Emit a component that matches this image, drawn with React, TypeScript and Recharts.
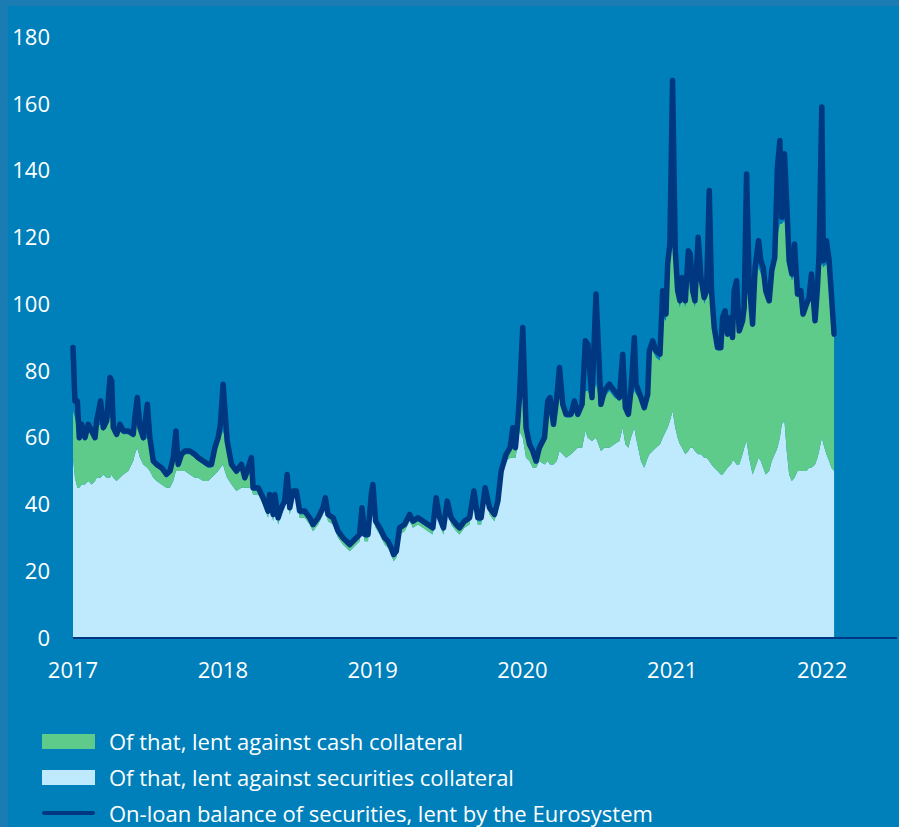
import { ComposedChart, Area, Line, XAxis, YAxis, Legend } from "recharts";

const NAVY = "#003781";
const GREEN = "#5ecb8b";
const LIGHT_BLUE = "#bfe9fc";
const BG = "#0080ba";
const EDGE = "#1a7cb3";
const FONT = "'Open Sans', 'DejaVu Sans', sans-serif";

const yearTicks = [2017, 2018, 2019, 2020, 2021, 2022];
const valueTicks = [0, 20, 40, 60, 80, 100, 120, 140, 160, 180];

// EUR bn, dates as decimal years
const dates = [
  2017.0, 2017.013, 2017.029, 2017.042, 2017.058, 2017.08, 2017.102, 2017.124, 2017.147, 2017.158,
  2017.184, 2017.202, 2017.224, 2017.247, 2017.258, 2017.269, 2017.291, 2017.313, 2017.336, 2017.369,
  2017.402, 2017.413, 2017.429, 2017.447, 2017.469, 2017.496, 2017.513, 2017.536, 2017.558, 2017.591,
  2017.624, 2017.647, 2017.669, 2017.687, 2017.702, 2017.724, 2017.747, 2017.78, 2017.813, 2017.836,
  2017.869, 2017.902, 2017.924, 2017.947, 2017.969, 2017.984, 2018.002, 2018.013, 2018.029, 2018.058,
  2018.091, 2018.124, 2018.147, 2018.191, 2018.202, 2018.236, 2018.269, 2018.302, 2018.313, 2018.336,
  2018.347, 2018.369, 2018.391, 2018.413, 2018.429, 2018.447, 2018.469, 2018.491, 2018.513, 2018.547,
  2018.58, 2018.602, 2018.636, 2018.669, 2018.684, 2018.702, 2018.736, 2018.769, 2018.802, 2018.847,
  2018.891, 2018.913, 2018.929, 2018.947, 2018.969, 2018.991, 2019.002, 2019.02, 2019.047, 2019.08,
  2019.102, 2019.124, 2019.14, 2019.158, 2019.18, 2019.213, 2019.247, 2019.269, 2019.302, 2019.336,
  2019.369, 2019.402, 2019.424, 2019.447, 2019.473, 2019.498, 2019.524, 2019.558, 2019.58, 2019.613,
  2019.647, 2019.676, 2019.702, 2019.724, 2019.751, 2019.78, 2019.813, 2019.836, 2019.858, 2019.891,
  2019.918, 2019.936, 2019.953, 2019.969, 2019.98, 2020.002, 2020.024, 2020.047, 2020.069, 2020.091,
  2020.113, 2020.147, 2020.169, 2020.184, 2020.207, 2020.229, 2020.247, 2020.269, 2020.291, 2020.324,
  2020.347, 2020.369, 2020.398, 2020.42, 2020.436, 2020.464, 2020.491, 2020.524, 2020.547, 2020.58,
  2020.613, 2020.647, 2020.669, 2020.687, 2020.707, 2020.724, 2020.747, 2020.758, 2020.791, 2020.813,
  2020.836, 2020.847, 2020.869, 2020.891, 2020.918, 2020.936, 2020.958, 2020.969, 2020.984, 2021.002,
  2021.02, 2021.036, 2021.051, 2021.065, 2021.087, 2021.107, 2021.12, 2021.136, 2021.151, 2021.173,
  2021.191, 2021.213, 2021.229, 2021.247, 2021.262, 2021.28, 2021.302, 2021.324, 2021.336, 2021.353,
  2021.369, 2021.391, 2021.402, 2021.413, 2021.429, 2021.447, 2021.469, 2021.48, 2021.496, 2021.513,
  2021.536, 2021.553, 2021.576, 2021.591, 2021.607, 2021.624, 2021.647, 2021.664, 2021.684, 2021.702,
  2021.718, 2021.731, 2021.749, 2021.764, 2021.78, 2021.798, 2021.816, 2021.836, 2021.858, 2021.873,
  2021.896, 2021.913, 2021.929, 2021.953, 2021.969, 2021.98, 2021.998, 2022.009, 2022.029, 2022.047,
  2022.062, 2022.08,
];

const onLoanBalance = [
  87, 71, 71, 60, 64, 60, 64, 62, 60, 65,
  71, 63, 65, 78, 77, 63, 61, 64, 62, 62,
  61, 66, 72, 63, 60, 70, 60, 53, 52, 51,
  49, 50, 54, 62, 52, 55, 56, 56, 55, 54,
  53, 52, 52, 57, 60, 64, 76, 69, 59, 52,
  50, 52, 48, 54, 45, 45, 42, 38, 43, 37,
  43, 36, 39, 41, 49, 39, 44, 44, 38, 38,
  36, 34, 36, 39, 42, 37, 36, 32, 30, 28,
  30, 31, 39, 31, 31, 43, 46, 35, 33, 30,
  29, 27, 25, 26, 33, 34, 37, 35, 36, 35,
  34, 33, 42, 36, 33, 41, 36, 34, 33, 35,
  36, 44, 36, 36, 45, 39, 37, 41, 50, 55,
  57, 63, 57, 65, 72, 93, 63, 58, 56, 53,
  57, 60, 71, 72, 64, 72, 81, 70, 67, 67,
  71, 67, 70, 89, 88, 72, 103, 70, 74, 76,
  74, 72, 85, 69, 67, 74, 90, 76, 72, 69,
  73, 86, 89, 86, 85, 104, 97, 112, 118, 167,
  116, 104, 101, 108, 101, 116, 115, 104, 101, 120,
  108, 102, 104, 134, 104, 93, 87, 87, 96, 98,
  91, 96, 90, 104, 107, 92, 95, 99, 139, 107,
  94, 111, 119, 113, 111, 104, 101, 110, 114, 141,
  149, 126, 145, 130, 113, 109, 118, 103, 104, 97,
  100, 102, 109, 95, 105, 115, 159, 113, 119, 113,
  103, 91,
];

const securitiesCollateral = [
  54, 48, 45, 45, 46, 46, 47, 46, 47, 48,
  48, 49, 48, 48, 49, 48, 47, 48, 49, 50,
  53, 55, 57, 54, 52, 51, 50, 48, 47, 46,
  45, 45, 47, 50, 50, 50, 50, 49, 48, 48,
  47, 47, 48, 49, 50, 51, 52, 50, 48, 46,
  44, 45, 45, 45, 43, 43, 40, 36, 41, 35,
  41, 34, 37, 39, 47, 37, 42, 42, 36, 36,
  34, 32, 34, 37, 40, 35, 34, 30, 28, 26,
  28, 29, 37, 29, 29, 41, 44, 33, 31, 28,
  27, 25, 23, 24, 31, 32, 35, 33, 34, 33,
  32, 31, 40, 34, 31, 39, 34, 32, 31, 33,
  34, 42, 34, 34, 43, 37, 35, 39, 48, 53,
  54, 54, 54, 58, 62, 60, 54, 53, 51, 51,
  53, 52, 53, 52, 52, 53, 56, 55, 54, 55,
  56, 57, 57, 62, 60, 59, 60, 56, 57, 57,
  58, 59, 63, 58, 57, 60, 63, 60, 53, 51,
  54, 55, 56, 57, 58, 60, 62, 63, 65, 68,
  63, 60, 58, 57, 55, 56, 57, 57, 56, 55,
  55, 54, 54, 53, 52, 51, 50, 49, 49, 50,
  51, 52, 53, 53, 52, 52, 55, 57, 59, 54,
  49, 51, 54, 53, 51, 49, 50, 53, 55, 57,
  60, 64, 65, 56, 49, 47, 48, 50, 50, 50,
  50, 51, 51, 52, 54, 56, 60, 58, 55, 53,
  51, 50,
];

const cashCollateral = [
  14, 18, 17, 14, 15, 13, 15, 15, 12, 15,
  16, 13, 15, 18, 17, 14, 13, 14, 12, 11,
  7, 8, 9, 7, 7, 9, 8, 4, 4, 4,
  3, 4, 5, 5, 1, 4, 5, 6, 6, 5,
  5, 4, 3, 6, 8, 9, 10, 10, 8, 5,
  5, 6, 2, 5, 1, 1, 1, 1, 1, 1,
  1, 1, 1, 1, 1, 1, 1, 1, 1, 1,
  1, 1, 1, 1, 1, 1, 1, 1, 1, 1,
  1, 1, 1, 1, 1, 1, 1, 1, 1, 1,
  1, 1, 1, 1, 1, 1, 1, 1, 1, 1,
  1, 1, 1, 1, 1, 1, 1, 1, 1, 1,
  1, 1, 1, 1, 1, 1, 1, 1, 1, 1,
  2, 7, 2, 5, 8, 14, 7, 4, 4, 1,
  3, 7, 13, 17, 11, 16, 16, 13, 12, 11,
  13, 9, 12, 12, 14, 12, 16, 13, 15, 17,
  14, 12, 9, 10, 9, 12, 11, 13, 18, 17,
  18, 29, 30, 27, 25, 36, 33, 45, 50, 49,
  49, 42, 41, 47, 44, 52, 51, 45, 43, 56,
  51, 46, 48, 51, 49, 40, 36, 37, 44, 44,
  39, 41, 36, 45, 47, 39, 38, 40, 44, 49,
  44, 54, 57, 56, 56, 53, 50, 55, 57, 63,
  64, 60, 60, 66, 62, 60, 61, 52, 53, 46,
  49, 49, 53, 42, 49, 54, 52, 53, 57, 57,
  50, 40,
];

const chartData = dates.map((t, i) => ({
  t,
  securities: securitiesCollateral[i],
  cash: cashCollateral[i],
  total: onLoanBalance[i],
}));

const legendItems = [
  { label: "Of that, lent against cash collateral", color: GREEN, line: false },
  { label: "Of that, lent against securities collateral", color: LIGHT_BLUE, line: false },
  { label: "On-loan balance of securities, lent by the Eurosystem", color: NAVY, line: true },
];

function ChartLegend() {
  return (
    <div style={{ fontFamily: FONT, fontSize: 22, color: "#fff" }}>
      {legendItems.map((item) => (
        <div key={item.label} style={{ display: "flex", alignItems: "center", height: 36 }}>
          <div
            style={{
              width: 53,
              height: item.line ? 4 : 15,
              borderRadius: item.line ? 2 : 0,
              background: item.color,
              marginRight: 14,
            }}
          />
          <span style={{ whiteSpace: "nowrap" }}>{item.label}</span>
        </div>
      ))}
    </div>
  );
}

export default function App() {
  return (
    <div style={{ width: 899, height: 827, background: EDGE, position: "relative", overflow: "hidden" }}>
      <style>{`body { margin: 0; }`}</style>
      <div style={{ position: "absolute", left: 8, top: 6, width: 891, height: 821, background: BG }}>
        <ComposedChart
          width={891}
          height={821}
          data={chartData}
          margin={{ top: 31, right: 2, left: 0, bottom: 149 }}
        >
          <XAxis
            dataKey="t"
            type="number"
            domain={[2017, 2022.5]}
            ticks={yearTicks}
            tickFormatter={(v: number) => String(Math.round(v))}
            axisLine={{ stroke: NAVY, strokeWidth: 2 }}
            tickLine={false}
            tickSize={0}
            tickMargin={24}
            height={40}
            tick={{ fill: "#fff", fontSize: 22, fontFamily: FONT }}
          />
          <YAxis
            type="number"
            domain={[0, 180]}
            ticks={valueTicks}
            axisLine={false}
            tickLine={false}
            tickSize={0}
            tickMargin={23}
            width={65}
            tick={{ fill: "#fff", fontSize: 22, fontFamily: FONT }}
          />
          <Area
            dataKey="securities"
            stackId="collateral"
            type="linear"
            stroke="none"
            fill={LIGHT_BLUE}
            fillOpacity={1}
            isAnimationActive={false}
          />
          <Area
            dataKey="cash"
            stackId="collateral"
            type="linear"
            stroke="none"
            fill={GREEN}
            fillOpacity={1}
            isAnimationActive={false}
          />
          <Line
            dataKey="total"
            type="linear"
            stroke={NAVY}
            strokeWidth={5.5}
            strokeLinejoin="round"
            strokeLinecap="round"
            dot={false}
            activeDot={false}
            isAnimationActive={false}
          />
          <Legend
            layout="vertical"
            align="center"
            verticalAlign="middle"
            content={() => <ChartLegend />}
            wrapperStyle={{ left: 34, top: 717, width: 800 }}
          />
        </ComposedChart>
      </div>
    </div>
  );
}
